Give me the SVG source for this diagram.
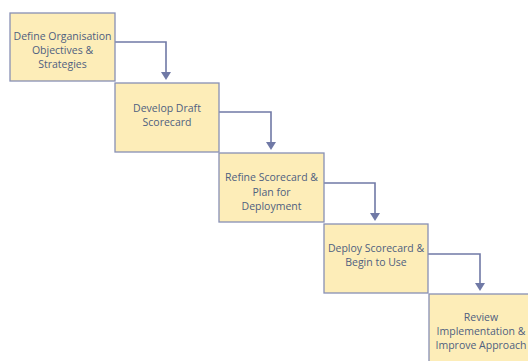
<svg xmlns="http://www.w3.org/2000/svg" width="528" height="361" viewBox="0 0 528 361">
<defs>
<style>
.box{fill:#FDEDB8;stroke:#8890B4;stroke-width:1.3}
.t{font-family:"Open Sans","Noto Sans",sans-serif;font-size:10.5px;fill:#4F5F80;text-anchor:middle}
.c{fill:none;stroke:#7079A6;stroke-width:1.6}
</style>
<marker id="ah" markerWidth="10" markerHeight="10" refX="5" refY="8" orient="auto" markerUnits="userSpaceOnUse" viewBox="0 0 10 10">
<path d="M0,0 L10,0 L5,8 Z" fill="#7079A6" transform="rotate(0)"/>
</marker>
</defs>
<rect width="528" height="361" fill="#fff"/>
<g id="connectors">
<path class="c" d="M115,42 H166 V74"/>
<path d="M161,72 H171 L166,80 Z" fill="#7079A6"/>
<path class="c" d="M219,112 H271 V144"/>
<path d="M266,142 H276 L271,150 Z" fill="#7079A6"/>
<path class="c" d="M324,183 H375 V215"/>
<path d="M370,213 H380 L375,221 Z" fill="#7079A6"/>
<path class="c" d="M428,254 H480 V285"/>
<path d="M475,283 H485 L480,291 Z" fill="#7079A6"/>
</g>
<g id="n1"><rect class="box" x="10" y="13" width="105" height="68"/>
<text class="t" x="62.5" y="40">Define Organisation</text><text class="t" x="62.5" y="54">Objectives &amp;</text><text class="t" x="62.5" y="68">Strategies</text></g>
<g id="n2"><rect class="box" x="115" y="83" width="104" height="69"/>
<text class="t" x="167" y="112">Develop Draft</text><text class="t" x="167" y="126">Scorecard</text></g>
<g id="n3"><rect class="box" x="219" y="153" width="105" height="69"/>
<text class="t" x="271.5" y="181">Refine Scorecard &amp;</text><text class="t" x="271.5" y="195.5">Plan for</text><text class="t" x="271.5" y="210">Deployment</text></g>
<g id="n4"><rect class="box" x="324" y="224" width="104" height="69"/>
<text class="t" x="376" y="252">Deploy Scorecard &amp;</text><text class="t" x="376" y="266">Begin to Use</text></g>
<g id="n5"><rect class="box" x="429" y="294" width="104" height="75"/>
<text class="t" x="481" y="321">Review</text><text class="t" x="481" y="335">Implementation &amp;</text><text class="t" x="481" y="349">Improve Approach</text></g>
</svg>
